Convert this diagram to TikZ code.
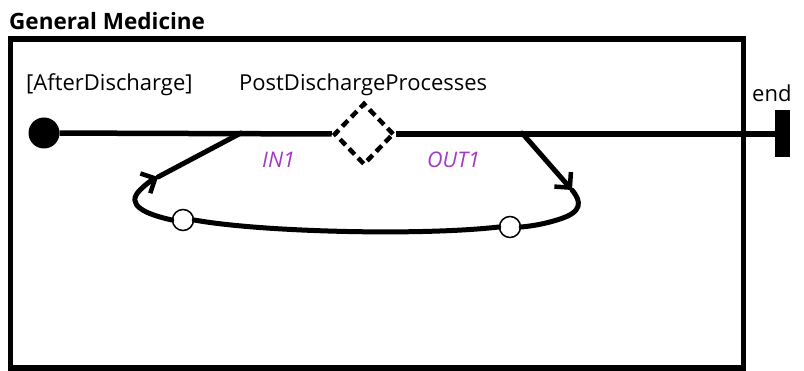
\documentclass[tikz,border=0pt]{standalone}
\usepackage{fontspec}
\setmainfont{Open Sans}
\usetikzlibrary{shapes.geometric,arrows.meta}
\definecolor{portlbl}{RGB}{165,55,195}
\tikzset{
  mainline/.style={line width=5.5pt},
  loopline/.style={line width=5pt, line cap=round},
  barb/.style={-{Straight Barb[length=11pt,width=22pt,line width=4.5pt]}},
  lbl/.style={font=\fontsize{22}{24}\selectfont, inner sep=0pt},
  portlabel/.style={font=\fontsize{21.5}{24}\selectfont\itshape, text=portlbl, inner sep=0pt},
  pin/.style={circle, draw, fill=white, line width=1.5pt, minimum size=21pt, inner sep=0pt},
}
\begin{document}
\begin{tikzpicture}[x=1pt,y=-1pt]
\useasboundingbox (0,0) rectangle (804,371);
\node[anchor=west, font=\fontsize{22.5}{24}\selectfont\bfseries, inner sep=0pt] (title) at (9,21) {General Medicine};
\node[draw, line width=5.5pt, minimum width=733pt, minimum height=329pt, inner sep=0pt] (frame) at (377,203.5) {};
\node[lbl, anchor=west] (guard) at (26,85) {[AfterDischarge]};
\node[lbl, anchor=west] (pname) at (239,85) {PostDischargeProcesses};
\node[lbl, anchor=west] (endlbl) at (752,93) {end};
\node[circle, fill, minimum size=31pt, inner sep=0pt] (start) at (44,133) {};
\node[fill, minimum width=15pt, minimum height=47pt, inner sep=0pt] (endbar) at (782.5,134) {};
\node[diamond, draw, dashed, dash pattern=on 8pt off 5pt, line width=4.5pt, minimum width=60pt, minimum height=62pt, inner sep=0pt] (dec) at (364,134) {};
\draw[mainline] (start) -- (dec.west);
\draw[mainline] (dec.east) -- (endbar.west);
\coordinate (in1) at (241,133);
\coordinate (out1) at (522,133);
\coordinate (inarrow) at (158,177);
\coordinate (outarrow) at (572,190);
\node[portlabel, anchor=west] (in1lbl) at (262,160) {IN1};
\node[portlabel, anchor=west] (out1lbl) at (427,160) {OUT1};
\node[pin] (cL) at (183,220) {};
\node[pin] (cR) at (510,227) {};
\draw[loopline, barb] (out1) -- (outarrow);
\draw[loopline] (outarrow) .. controls (582,202) and (582,212) .. (560,219) .. controls (545,224) and (532,226) .. (cR.east);
\draw[loopline] (cR.west) .. controls (420,236) and (260,232) .. (cL.east);
\draw[loopline, barb] (cL.west) .. controls (145,214) and (125,205) .. (140,190) .. controls (144,186) and (150,181) .. (inarrow);
\draw[loopline] (inarrow) -- (in1);
\end{tikzpicture}
\end{document}
